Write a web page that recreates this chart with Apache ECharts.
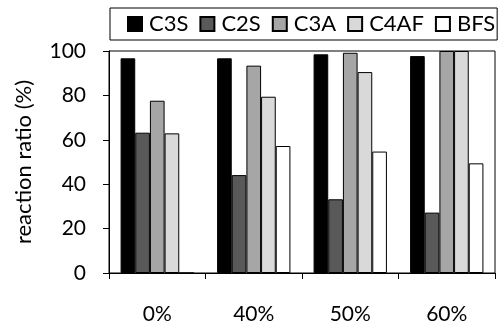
<!DOCTYPE html>
<html><head><meta charset="utf-8">
<script src="https://cdn.jsdelivr.net/npm/echarts@6/dist/echarts.min.js"></script>
<style>html,body{margin:0;padding:0;background:#fff}#c{width:503px;height:329px}</style>
</head><body><div id="c"></div>
<script>
const categories = ['0%', '40%', '50%', '60%'];
const seriesNames = ['C3S', 'C2S', 'C3A', 'C4AF', 'BFS'];
const C3S = [96.7, 96.7, 98.5, 97.7];
const C2S = [63.2, 44.1, 33.2, 27.2];
const C3A = [77.6, 93.4, 99.2, 100];
const C4AF = [62.9, 79.4, 90.5, 100];
const BFS = [0, 57.2, 54.7, 49.4];
const yTicks = [0, 20, 40, 60, 80, 100];

const colors = ['#000000', '#595959', '#a6a6a6', '#d9d9d9', '#ffffff'];
const values = [C3S, C2S, C3A, C4AF, BFS];
const font = 'Lato';
const chart = echarts.init(document.getElementById('c'), null, {renderer: 'canvas'});
chart.setOption({
  animation: false,
  textStyle: {fontFamily: font},
  legend: {
    left: 110, top: 8, width: 480,
    padding: [3, 2, 3, 17],
    itemGap: 11, itemWidth: 14, itemHeight: 14,
    borderColor: '#000', borderWidth: 1,
    icon: 'rect',
    textStyle: {fontFamily: font, fontSize: 22, lineHeight: 26, color: '#000', padding: [0, 0, 0, 2]},
    data: seriesNames
  },
  grid: {left: 109, right: 8, top: 51, bottom: 56, show: true, borderColor: '#000', borderWidth: 1, backgroundColor: 'transparent'},
  xAxis: {
    type: 'category', data: categories,
    axisLine: {lineStyle: {color: '#000', width: 1}},
    axisTick: {show: true, length: 6, lineStyle: {color: '#000'}},
    axisLabel: {fontSize: 21, color: '#000', margin: 31, fontFamily: font}
  },
  yAxis: {
    type: 'value', min: yTicks[0], max: yTicks[yTicks.length - 1], interval: 20,
    name: 'reaction ratio (%)', nameLocation: 'middle', nameGap: 74,
    nameTextStyle: {fontSize: 22, color: '#000', fontFamily: font},
    axisLine: {show: true, lineStyle: {color: '#000', width: 1}},
    axisTick: {show: true, length: 6, lineStyle: {color: '#000'}},
    axisLabel: {fontSize: 21, color: '#000', margin: 23, fontFamily: font},
    splitLine: {show: false}
  },
  series: seriesNames.map((n, i) => ({
    name: n, type: 'bar', data: values[i],
    barGap: '0%', barCategoryGap: '24%',
    itemStyle: {color: colors[i], borderColor: '#000', borderWidth: 1}
  }))
});
</script></body></html>
